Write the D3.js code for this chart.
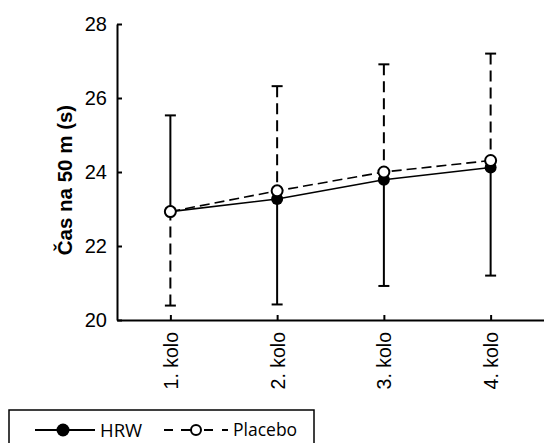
<!DOCTYPE html>
<html><head><meta charset="utf-8">
<script src="https://cdn.jsdelivr.net/npm/d3@7"></script>
<style>body{margin:0;background:#fff}</style>
</head><body>
<svg id="c" width="544" height="443"></svg>
<script>
const categories = ["1. kolo", "2. kolo", "3. kolo", "4. kolo"];
const hrwMean = [22.93, 23.27, 23.79, 24.12];
const hrwUpper = [25.53, null, null, null];
const hrwLower = [null, 20.42, 20.92, 21.2];
const placeboMean = [22.93, 23.49, 24.0, 24.31];
const placeboUpper = [null, 26.32, 26.91, 27.2];
const placeboLower = [20.39, null, null, null];
const yTicks = [20, 22, 24, 26, 28];
const seriesNames = ["HRW", "Placebo"];

const svg = d3.select("#c");
const x = d3.scaleLinear().domain([0.5, 4.5]).range([117, 544]);
const y = d3.scaleLinear().domain([20, 28]).range([320, 24]);
const font = "'Liberation Sans', Arial, sans-serif";

// axes
const yAxis = svg.append("g").attr("transform", "translate(117,0)")
  .call(d3.axisLeft(y).tickValues(yTicks).tickSize(-5).tickPadding(10).tickSizeOuter(0));
yAxis.attr("font-family", font).attr("font-size", 20);
yAxis.select(".domain").attr("stroke-width", 2);
yAxis.selectAll(".tick line").attr("stroke-width", 2);
yAxis.selectAll("text").attr("fill", "#000");

const xAxis = svg.append("g").attr("transform", "translate(0,320)")
  .call(d3.axisBottom(x).tickValues([1,2,3,4]).tickFormat((d,i)=>categories[i]).tickSize(-5).tickSizeOuter(0));
xAxis.attr("font-family", font).attr("font-size", 19.5);
xAxis.select(".domain").attr("stroke-width", 2);
xAxis.selectAll(".tick line").attr("stroke-width", 2);
xAxis.selectAll("text").attr("fill", "#000")
  .attr("text-anchor", "end").attr("transform", "rotate(-90)")
  .attr("x", -12).attr("y", 0).attr("dy", "0.36em");

// y label
svg.append("text").attr("transform", "translate(72,180) rotate(-90)")
  .attr("text-anchor", "middle").attr("font-family", font).attr("font-weight", "bold")
  .attr("font-size", 20.5).text("Čas na 50 m (s)");

const g = svg.append("g");
const capW = 5.5;
function errBars(mean, upper, lower, dash) {
  mean.forEach((m, i) => {
    [upper[i], lower[i]].forEach(e => {
      if (e == null) return;
      const cx = x(i + 1);
      g.append("line").attr("x1", cx).attr("x2", cx).attr("y1", y(e)).attr("y2", y(m))
        .attr("stroke", "#000").attr("stroke-width", 2).attr("stroke-dasharray", dash);
      g.append("line").attr("x1", cx - capW).attr("x2", cx + capW).attr("y1", y(e)).attr("y2", y(e))
        .attr("stroke", "#000").attr("stroke-width", 2);
    });
  });
}
errBars(hrwMean, hrwUpper, hrwLower, null);
errBars(placeboMean, placeboUpper, placeboLower, "11,6");

const line = d3.line().x((d, i) => x(i + 1)).y(d => y(d));
g.append("path").attr("d", line(placeboMean)).attr("fill", "none").attr("stroke", "#000")
  .attr("stroke-width", 1.6).attr("stroke-dasharray", "10,5");
g.append("path").attr("d", line(hrwMean)).attr("fill", "none").attr("stroke", "#000")
  .attr("stroke-width", 1.6);

g.selectAll(".hrw").data(hrwMean).enter().append("circle")
  .attr("cx", (d, i) => x(i + 1)).attr("cy", d => y(d)).attr("r", 6).attr("fill", "#000");
g.selectAll(".pl").data(placeboMean).enter().append("circle")
  .attr("cx", (d, i) => x(i + 1)).attr("cy", d => y(d)).attr("r", 5.5)
  .attr("fill", "#fff").attr("stroke", "#000").attr("stroke-width", 2);

// legend
const lg = svg.append("g");
lg.append("rect").attr("x", 9).attr("y", 410).attr("width", 305).attr("height", 45)
  .attr("fill", "#fff").attr("stroke", "#000").attr("stroke-width", 1.5);
const ly = 430;
const lfont = "'Open Sans', sans-serif";
lg.append("line").attr("x1", 35).attr("x2", 95).attr("y1", ly).attr("y2", ly)
  .attr("stroke", "#000").attr("stroke-width", 2);
lg.append("circle").attr("cx", 63).attr("cy", ly).attr("r", 6.5).attr("fill", "#000");
lg.append("text").attr("x", 100).attr("y", ly).attr("dy", "0.36em")
  .attr("font-family", lfont).attr("font-size", 18.5).text(seriesNames[0]);
lg.append("line").attr("x1", 164).attr("x2", 228).attr("y1", ly).attr("y2", ly)
  .attr("stroke", "#000").attr("stroke-width", 2).attr("stroke-dasharray", "9,8,15,8,9");
lg.append("circle").attr("cx", 196).attr("cy", ly).attr("r", 5)
  .attr("fill", "#fff").attr("stroke", "#000").attr("stroke-width", 2);
lg.append("text").attr("x", 233).attr("y", ly).attr("dy", "0.36em")
  .attr("font-family", lfont).attr("font-size", 17.5).text(seriesNames[1]);
</script>
</body></html>
